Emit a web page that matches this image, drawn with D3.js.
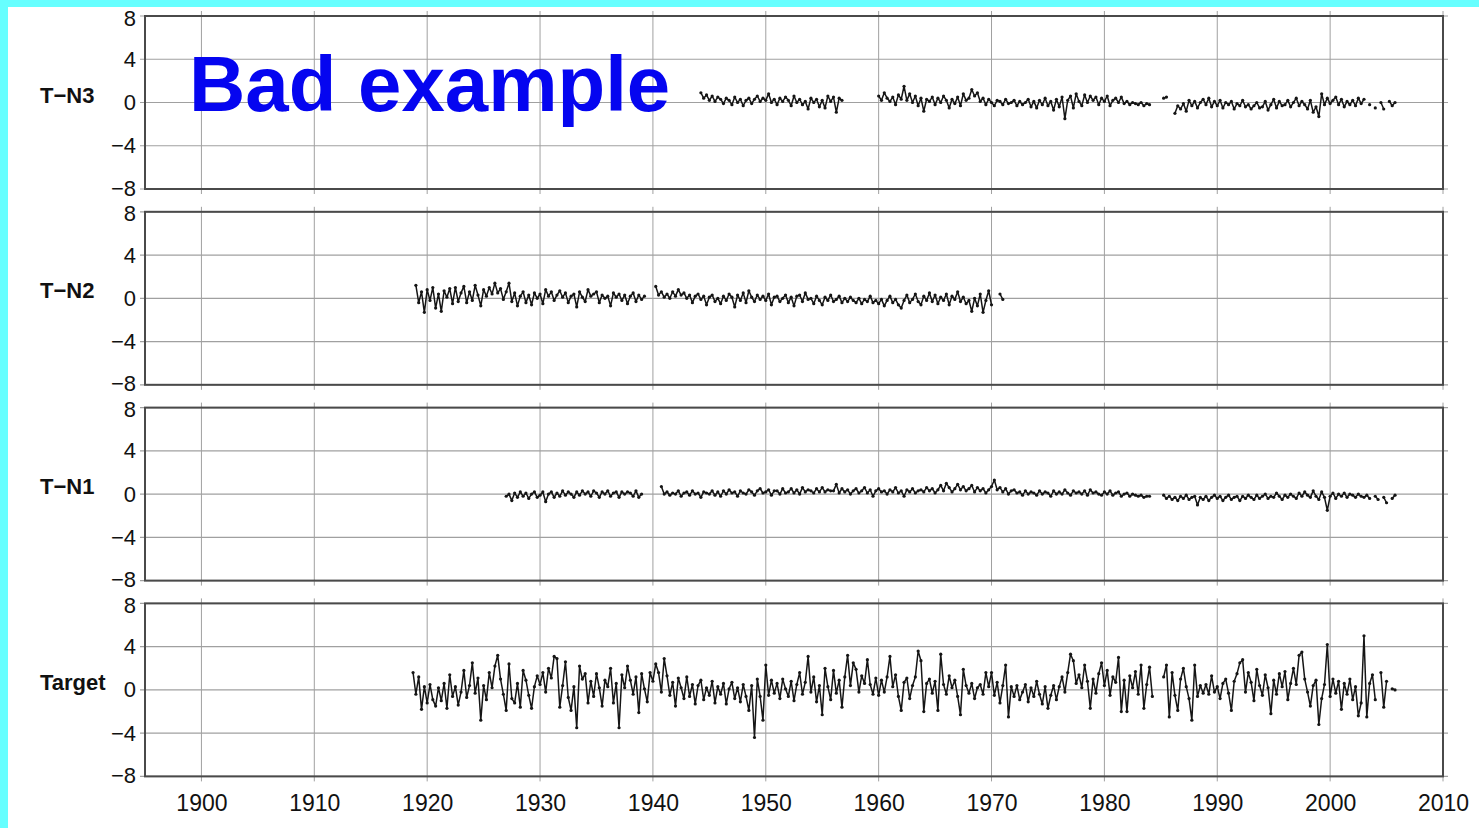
<!DOCTYPE html>
<html>
<head>
<meta charset="utf-8">
<script src="https://cdn.jsdelivr.net/npm/d3@7"></script>
<style>
  body { margin: 0; background: #fff; }
  svg { display: block; font-family: "Liberation Sans", Arial, sans-serif; }
</style>
</head>
<body>
<div id="chart"></div>
<script>
// Panel names, top to bottom
const panelNames = ["T\u2212N3", "T\u2212N2", "T\u2212N1", "Target"];
// first year of each series, values are quarterly (null = no data)
const seriesStart = [1944.25, 1919, 1927, 1918.75];
const step = 0.25;

const tn3Values = [
  0.9, 0.4, 0.7,
  0.2, 0.6, 0.1, 0.5,  0.3, -0.1, 0.4, 0.2,  -0.2, 0.5, 0.0, 0.3,  -0.3, 0.2, 0.4, -0.1,
  0.3, 0.6, 0.1, 0.4,  0.2, 0.8, 0.0, 0.3,  -0.2, 0.4, 0.1, 0.5,  0.2, -0.3, 0.6, 0.0,
  0.3, -0.2, 0.1, -0.6,  0.4, 0.0, 0.3, -0.4,  0.2, -0.5, 0.6, 0.1,  0.5, -0.9, 0.4, 0.2,
  null, null, null, null,  null, null, null, null,  null, null, null, null,
  0.6, 0.2, 0.9, 0.4,  0.1, 0.5, -0.2, 0.7,  0.3, 1.5, 0.2, 0.8,  0.0, 0.6, -0.3, 0.4,
  -0.8, 0.3, 0.1, 0.5,  -0.2, 0.4, 0.0, 0.6,  0.2, -0.5, 0.3, -0.1,  0.5, -0.3, 0.8, 0.2,
  0.4, 1.2, 0.6, 0.9,  0.1, 0.4, -0.2, 0.3,  0.0, -0.3, 0.2, 0.1,  -0.2, 0.3, -0.1, 0.0,
  0.2, -0.3, 0.1, -0.2,  0.0, 0.3, -0.4, 0.1,  -0.5, 0.2, -0.2, 0.4,  -0.3, 0.1, -0.7, 0.3,
  -0.4, 0.5, -1.5, 0.2,  0.6, -0.5, 0.8, 0.1,  -0.3, 0.7, 0.0, 0.6,  0.2, 0.5, -0.2, 0.4,
  0.1, 0.6, -0.3, 0.2,  0.4, 0.0, 0.5, -0.1,  0.1, -0.2, 0.0, -0.1,  -0.2, 0.0, -0.3, -0.1,
  -0.2, null, null, null,  null, 0.4, 0.5, null,
  null, -1.0, -0.3, -0.6,  -0.1, -0.8, 0.2, -0.3,  0.1, -0.5, 0.0, 0.3,  -0.2, 0.4, -0.4, 0.1,
  -0.3, 0.2, -0.5, 0.0,  -0.2, 0.1, -0.6, -0.1,  -0.3, 0.2, -0.4, -0.2,  -0.6, -0.3, 0.0, -0.5,
  -0.4, 0.1, -0.7, -0.2,  0.3, -0.5, 0.1, -0.3,  -0.2, 0.2, -0.4, 0.0,  0.4, -0.3, 0.1, -0.2,
  -0.6, 0.2, -0.9, -0.4,  -1.3, 0.8, -0.2, 0.4,  -0.1, 0.2, 0.5, -0.2,  0.3, -0.4, 0.1, -0.2,
  0.2, -0.3, 0.4, -0.1,  0.3, null, -0.2, null,  -0.5, null, 0.0, -0.6,  null, 0.1, -0.3, 0.0
];

const tn2Values = [
  1.2, -0.4, 0.6, -1.3,  0.8, -0.2, 1.0, -0.9,  0.4, -1.2, 0.7, 0.1,  0.9, -0.5, 1.0, -0.3,
  0.5, 1.1, -0.4, 0.6,  -0.2, 1.2, 0.3, -0.7,  0.8, 0.2, 1.0, 0.4,  1.4, 0.5, 0.9, -0.1,
  0.6, 1.4, -0.3, 0.5,  -0.7, 0.2, 0.6, -0.4,  0.3, -0.6, 0.5, 0.0,  0.4, -0.5, 0.8, 0.2,
  0.6, -0.2, 0.3, 0.7,  0.1, 0.5, -0.4, 0.2,  0.4, -0.8, 0.6, 0.1,  -0.3, 0.8, 0.2, 0.4,
  0.6, -0.4, 0.3, 0.0,  0.2, -0.7, 0.5, 0.1,  0.4, -0.2, 0.3, -0.5,  0.2, 0.5, -0.3, 0.3,
  -0.1, 0.2, null, null,
  null, 1.1, 0.3, 0.6,  0.1, 0.4, 0.0, 0.6,  0.2, 0.8, 0.3, 0.5,  0.0, 0.3, -0.4, 0.2,
  0.4, -0.1, 0.2, -0.6,  0.1, 0.3, -0.3, 0.0,  -0.5, 0.2, -0.2, 0.4,  0.1, -0.8, 0.3, -0.2,
  0.5, -0.4, 0.7, 0.1,  -0.3, 0.3, -0.1, 0.2,  -0.2, 0.4, -0.6, 0.1,  0.2, -0.3, 0.0, 0.3,
  -0.4, 0.1, -0.7, 0.2,  0.3, -0.3, 0.5, -0.1,  0.0, -0.5, 0.2, -0.2,  -0.6, 0.1, -0.2, 0.3,
  -0.3, -0.1, 0.2, -0.4,  0.0, -0.3, 0.1, -0.2,  -0.4, 0.0, -0.5, -0.1,  -0.3, 0.2, -0.4, -0.2,
  -0.5, -0.1, -0.7, -0.2,  0.2, -0.4, -0.1, -0.6,  -0.9, -0.2, 0.3, -0.4,  -0.1, 0.4, -0.3, -0.6,
  0.2, -0.2, 0.5, -0.3,  0.3, -0.5, 0.1, -0.2,  0.4, -0.6, 0.2, -0.1,  0.6, -0.3, 0.1, -0.5,
  -0.2, -1.2, 0.0, -0.7,  0.4, -1.3, -0.2, 0.7,  -0.6, null, null, 0.4,  -0.1
];

const tn1Values = [
  -0.2, 0.0, -0.6, 0.1,  -0.3, 0.2, -0.2, 0.1,  -0.4, 0.0, 0.2, -0.3,  -0.1, 0.2, -0.7, 0.0,
  0.2, -0.3, 0.1, -0.2,  0.3, -0.1, 0.2, 0.0,  -0.3, 0.2, -0.1, 0.3,  0.0, 0.2, -0.2, 0.3,
  0.1, -0.3, 0.2, 0.0,  0.3, -0.2, 0.1, 0.2,  -0.3, 0.2, 0.0, 0.2,  0.1, -0.2, 0.3, -0.3,
  0.0, null, null, null,  null, null, null, 0.7,
  0.0, 0.2, -0.1, 0.1,  0.0, 0.3, -0.2, 0.1,  0.2, -0.1, 0.3, 0.0,  0.1, -0.3, 0.2, 0.1,
  0.0, 0.3, -0.1, 0.2,  -0.2, 0.3, 0.0, 0.4,  0.1, 0.2, -0.2, 0.3,  0.1, 0.0, 0.4, 0.2,
  -0.1, 0.3, 0.5, 0.1,  0.2, 0.4, -0.1, 0.3,  0.3, 0.0, 0.5, 0.1,  0.2, 0.5, 0.1, 0.4,
  0.0, 0.6, 0.2, 0.4,  0.3, 0.1, 0.5, 0.2,  0.6, 0.2, 0.4, 0.3,  0.3, 0.9, 0.1, 0.5,
  0.2, 0.4, 0.0, 0.3,  0.5, 0.1, 0.3, 0.6,  0.1, 0.4, -0.2, 0.3,  0.5, 0.2, 0.3, 0.0,
  0.4, 0.2, 0.6, 0.1,  0.3, -0.2, 0.4, 0.2,  0.5, 0.1, 0.3, 0.4,  0.2, 0.6, 0.3, 0.5,
  0.1, 0.4, 0.8, 0.3,  1.0, 0.6, 0.2, 0.5,  0.9, 0.4, 0.7, 0.3,  0.5, 0.8, 0.2, 0.6,
  0.3, 0.5, 0.1, 0.4,  0.7, 1.3, 0.4, 0.6,  0.2, 0.5, 0.0, 0.3,  0.4, 0.1, 0.2, -0.1,
  0.3, 0.0, 0.2, 0.1,  -0.1, 0.3, 0.0, 0.2,  0.1, -0.2, 0.3, 0.0,  0.2, 0.0, 0.4, 0.1,
  -0.1, 0.3, 0.1, 0.2,  0.0, 0.3, -0.1, 0.4,  0.1, 0.2, 0.0, -0.1,  0.2, 0.0, 0.3, -0.1,
  0.1, 0.2, -0.2, 0.0,  0.1, -0.2, 0.0, -0.1,  -0.2, -0.1, -0.3, -0.2,  -0.2, null, null, null,
  null, -0.1, -0.4, -0.2,  -0.5, -0.3, -0.6, -0.2,  -0.4, -0.1, -0.5, -0.3,  -0.2, -1.0, -0.3, -0.5,
  -0.2, -0.6, -0.3, -0.1,  -0.4, -0.2, -0.6, -0.3,  -0.1, -0.5, -0.3, -0.2,  -0.6, -0.2, -0.4, -0.1,
  -0.3, -0.5, -0.1, -0.4,  -0.2, 0.0, -0.4, -0.2,  -0.3, 0.1, -0.2, -0.5,  -0.1, -0.3, 0.0, -0.2,
  -0.4, 0.1, -0.2, 0.2,  -0.1, -0.3, 0.3, -0.2,  -0.5, 0.2, -0.3, -1.5,  -0.2, 0.1, -0.4, 0.0,
  -0.2, 0.1, -0.3, 0.0,  -0.1, -0.3, 0.0, -0.2,  -0.3, -0.1, -0.4, null,  -0.2, -0.5, null, -0.3,
  -0.8, null, -0.4, -0.1
];

const targetValues = [
  1.6,
  -0.4, 1.2, -1.8, 0.3,  -1.2, 0.5, -0.9, -1.5,  0.2, -1.0, 0.6, -1.7,  1.4, -0.6, 0.3, -1.4,
  -0.2, 1.8, -0.7, 0.4,  2.5, -0.3, 1.1, -2.8,  0.4, -0.9, 1.6, 0.2,  2.2, 3.2, 1.0, -0.4,
  -1.9, 2.4, -0.8, -1.2,  0.6, -1.6, 1.8, 0.9,  -0.5, -1.7, 0.3, 1.3,  0.5, 1.6, -0.2, 2.0,
  1.1, 3.1, 2.9, -1.6,  0.4, 2.6, -0.7, -1.9,  0.3, -3.5, 2.2, 1.0,  1.5, -1.2, 0.8, -0.6,
  1.5, 0.2, -1.5, 0.9,  0.3, 2.0, -1.2, 0.6,  -3.5, 1.4, 0.2, 2.2,  0.9, -0.4, 1.2, -2.1,
  1.5, 0.1, -1.1, 1.6,  0.8, 2.4, 1.6, -0.2,  2.9, 1.3, -0.5, 0.7,  -1.5, 1.1, 0.2, -0.8,
  1.2, -0.6, 0.5, -1.3,  0.4, 0.9, -0.9, 0.2,  -0.5, 0.8, -1.2, 0.3,  -0.4, 0.6, -1.3, 0.1,
  0.7, -0.8, 0.2, -1.1,  0.5, -0.6, -1.9, 0.4,  -4.4, 1.0, -0.6, -2.8,  2.3, -0.5, 0.9, -0.3,
  0.6, -0.8, 1.0, 0.1,  -0.6, 0.8, -1.0, 0.5,  1.6, -0.4, 0.7, 3.1,  -0.2, 1.2, -1.1, 0.4,
  -2.3, 2.0, 0.3, -0.9,  1.8, -0.3, 0.9, -1.6,  1.2, 3.2, 0.4, 2.5,  1.9, -0.2, 1.3, 0.6,
  2.8, 0.5, -0.4, 1.1,  -0.5, 0.9, -0.2, 1.2,  3.1, 0.3, 1.4, -0.6,  -1.9, 0.7, 1.1, -0.8,
  0.4, 1.2, 3.6, 2.7,  -2.0, 0.6, 1.0, -0.3,  0.8, -1.9, 3.3, 0.5,  -0.4, 1.3, 0.2, 0.9,
  -0.6, -2.3, 1.9, 0.4,  -0.3, 0.6, -0.8, 0.2,  0.5, -0.4, 1.6, 0.3,  1.6, -0.5, 0.7, -1.2,
  0.4, 2.3, -2.5, 0.3,  -0.6, 0.4, -0.9, -0.2,  0.5, -1.1, 0.2, -0.6,  0.8, -0.4, -1.3, 0.3,
  -1.7, -0.5, 0.4, -0.9,  0.3, 1.2, -0.2, 1.6,  3.3, 2.7, 0.6, 1.4,  0.2, 2.3, 0.8, -1.7,
  1.0, -0.3, 1.5, 2.5,  0.4, 1.8, -0.5, 1.2,  0.7, 3.0, -2.0, 0.9,  -2.0, 1.3, 0.2, 1.7,
  -0.4, 2.3, -1.7, 0.5,  2.1, -0.6, null, null,  null, 1.2, 2.3, -2.5,  1.6, -0.5, -1.9, 1.0,
  2.0, 0.3, -0.8, -2.8,  2.3, -0.6, 0.4, -0.3,  0.5, -0.4, 1.3, -0.2,  0.3, -0.8, 0.6, 1.0,
  -0.3, -1.9, 0.8, 1.5,  2.5, 2.8, -0.2, 1.6,  0.7, -1.0, 1.9, 0.4,  -0.5, 1.4, 0.2, -2.2,
  0.9, -0.4, 1.5, 0.3,  1.7, -0.9, 0.6, 2.0,  0.5, 3.2, 3.5, 1.0,  -0.2, -1.5, 0.4, 0.9,
  -3.2, -0.8, 0.5, 4.2,  -0.6, 1.0, -0.3, 0.8,  -1.8, 0.6, -0.4, 1.0,  -0.9, 0.3, -2.4, -1.2,
  5.0, -2.5, 0.6, 1.4,  -0.9, null, 1.6, -1.6,  0.8, null, 0.1, 0.0
];

const seriesValues = [tn3Values, tn2Values, tn1Values, targetValues];
const yTicks = [8, 4, 0, -4, -8];
const yearTicks = [1900, 1910, 1920, 1930, 1940, 1950, 1960, 1970, 1980, 1990, 2000, 2010];

const W = 1479, H = 828;
const left = 145, right = 1443;
const panelTop = 16, panelGap = 195.8, panelH = 173;

const svg = d3.select("#chart").append("svg")
  .attr("width", W)
  .attr("height", H);

svg.append("rect").attr("width", W).attr("height", H).attr("fill", "#fff");

const x = d3.scaleLinear()
  .domain([1895, 2010])
  .range([left, right]);

const line = d3.line()
  .defined(d => d.v != null);

panelNames.forEach((name, i) => {
  const top = panelTop + i * panelGap;
  const y = d3.scaleLinear().domain([-8, 8]).range([top + panelH, top]);
  const g = svg.append("g");

  // grid lines, sticking a few px out of the frame like tick marks
  g.selectAll(".vgrid")
    .data(yearTicks)
    .join("line")
    .attr("x1", d => x(d)).attr("x2", d => x(d))
    .attr("y1", top - 5).attr("y2", top + panelH + 5)
    .attr("stroke", "#a0a0a0")
    .attr("stroke-width", 1);

  g.selectAll(".hgrid")
    .data(yTicks)
    .join("line")
    .attr("x1", left - 5).attr("x2", right + 5)
    .attr("y1", d => y(d)).attr("y2", d => y(d))
    .attr("stroke", "#a0a0a0")
    .attr("stroke-width", 1.2);

  // frame
  g.append("rect")
    .attr("x", left).attr("y", top)
    .attr("width", right - left).attr("height", panelH)
    .attr("fill", "none")
    .attr("stroke", "#4a4a4a")
    .attr("stroke-width", 2);

  // y tick labels; nudge the end labels apart so stacked panels don't collide
  const yAxis = g.append("g")
    .attr("transform", `translate(${left},0)`)
    .call(d3.axisLeft(y).tickValues(yTicks).tickSize(0).tickPadding(9));
  yAxis.select(".domain").remove();
  yAxis.selectAll("text")
    .style("font-size", "22px")
    .style("font-family", "'Liberation Sans', Arial, sans-serif")
    .attr("fill", "#111")
    .attr("y", d => d === 8 ? 2 : d === -8 ? -1 : 0);

  // panel label
  g.append("text")
    .attr("x", 40)
    .attr("y", y(0) + 0)
    .style("font-size", "22px")
    .style("font-weight", "bold")
    .attr("fill", "#111")
    .text(name);

  // the series
  const pts = seriesValues[i].map((v, k) => ({ t: seriesStart[i] + k * step, v: v }));
  line.x(d => x(d.t)).y(d => y(d.v));

  g.append("path")
    .datum(pts)
    .attr("d", line)
    .attr("fill", "none")
    .attr("stroke", "#151515")
    .attr("stroke-width", 1.5)
    .attr("stroke-linejoin", "round");

  g.selectAll(".dot")
    .data(pts.filter(d => d.v != null))
    .join("circle")
    .attr("cx", d => x(d.t))
    .attr("cy", d => y(d.v))
    .attr("r", 1.6)
    .attr("fill", "#151515");

  // year labels under the last panel
  if (i === panelNames.length - 1) {
    const xAxis = g.append("g")
      .attr("transform", `translate(0,${top + panelH})`)
      .call(d3.axisBottom(x).tickValues(yearTicks).tickFormat(d3.format("d")).tickSize(0).tickPadding(18));
    xAxis.select(".domain").remove();
    xAxis.selectAll("text")
      .style("font-size", "23px")
      .style("font-family", "'Liberation Sans', Arial, sans-serif")
      .attr("fill", "#111");
  }
});

// title over the top panel
svg.append("text")
  .attr("x", 189)
  .attr("y", 111)
  .style("font-size", "78px")
  .style("font-weight", "bold")
  .attr("fill", "#0505f0")
  .text("Bad example");

// cyan slide border
svg.append("rect").attr("x", 0).attr("y", 0).attr("width", W).attr("height", 7).attr("fill", "#66ffff");
svg.append("rect").attr("x", 0).attr("y", 0).attr("width", 8).attr("height", H).attr("fill", "#66ffff");
</script>
</body>
</html>
